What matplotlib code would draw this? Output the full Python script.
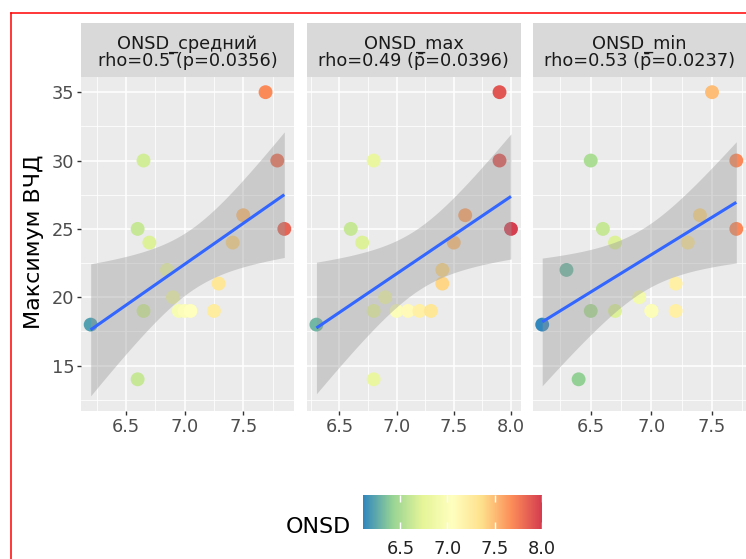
import numpy as np
import matplotlib
matplotlib.use("Agg")
import matplotlib.pyplot as plt
from matplotlib.colors import LinearSegmentedColormap, Normalize
from matplotlib.lines import Line2D

# Maximum ICP per patient and the three ONSD summaries (mm)
icp_max = [35, 30, 30, 25, 25, 24, 24, 26, 22, 21, 20, 19, 19, 19, 19, 19, 18, 14]
onsd_mean = [7.69, 7.79, 6.65, 7.85, 6.60, 6.70, 7.41, 7.50, 6.85, 7.29, 6.90,
             6.65, 6.95, 7.00, 7.05, 7.25, 6.20, 6.60]
onsd_max = [7.9, 7.9, 6.8, 8.0, 6.6, 6.7, 7.5, 7.6, 7.4, 7.4, 6.9,
            6.8, 7.0, 7.1, 7.2, 7.3, 6.3, 6.8]
onsd_min = [7.5, 7.7, 6.5, 7.7, 6.6, 6.7, 7.3, 7.4, 6.3, 7.2, 6.9,
            6.5, 6.7, 7.0, 7.0, 7.2, 6.1, 6.4]

facet_values = [onsd_mean, onsd_max, onsd_min]
facet_names = ["ONSD_средний", "ONSD_max", "ONSD_min"]
facet_stats = ["rho=0.5 \u0304(p=0.0356)",
               "rho=0.49 (p\u0304=0.0396)",
               "rho=0.53 (p\u0304=0.0237)"]
x_ticks = [6.0, 6.5, 7.0, 7.5, 8.0]
y_ticks = [15, 20, 25, 30, 35]
colorbar_ticks = [6.5, 7.0, 7.5, 8.0]

# Spectral palette, low values blue, high values red
spectral = ["#3288BD", "#99D594", "#E6F598", "#FFFFBF", "#FEE08B", "#FC8D59", "#D53E4F"]
cmap = LinearSegmentedColormap.from_list("spectral_r", spectral)
all_vals = np.concatenate([np.asarray(v) for v in facet_values])
norm = Normalize(all_vals.min(), all_vals.max())

T_CRIT = 2.12  # t(0.975, df = n - 2)


def lm_band(x, y, n=80):
    x = np.asarray(x, float)
    y = np.asarray(y, float)
    b, a = np.polyfit(x, y, 1)
    xs = np.linspace(x.min(), x.max(), n)
    fit = a + b * xs
    resid = y - (a + b * x)
    s = np.sqrt(np.sum(resid ** 2) / (len(x) - 2))
    sxx = np.sum((x - x.mean()) ** 2)
    se = s * np.sqrt(1 / len(x) + (xs - x.mean()) ** 2 / sxx)
    return xs, fit, fit - T_CRIT * se, fit + T_CRIT * se


fits = [lm_band(v, icp_max) for v in facet_values]
lo = min(min(icp_max), min(f[2].min() for f in fits))
hi = max(max(icp_max), max(f[3].max() for f in fits))
pad = 0.05 * (hi - lo)
ylim = (lo - pad, hi + pad)

W, H = 746, 559
fig = plt.figure(figsize=(W / 100, H / 100), dpi=100)


def px_axes(x0, y0, x1, y1):
    return fig.add_axes([x0 / W, 1 - y1 / H, (x1 - x0) / W, (y1 - y0) / H])


panels_x = [(81, 294), (306.7, 520.7), (532.5, 746)]
panel_top, panel_bottom = 77, 411
strip_top = 23
small = 12.8
large = 16

for i, (vals, name, stat) in enumerate(zip(facet_values, facet_names, facet_stats)):
    x0, x1 = panels_x[i]
    ax = px_axes(x0, panel_top, x1, panel_bottom)
    ax.set_facecolor("#EBEBEB")
    for sp in ax.spines.values():
        sp.set_visible(False)

    v = np.asarray(vals)
    xpad = 0.05 * (v.max() - v.min())
    xlim = (v.min() - xpad, v.max() + xpad)
    ax.set_xlim(*xlim)
    ax.set_ylim(*ylim)

    xt = [t for t in x_ticks if xlim[0] <= t <= xlim[1]]
    ax.set_xticks(xt)
    ax.set_xticklabels([f"{t:.1f}" for t in xt])
    xm = [t + 0.25 for t in [5.5] + x_ticks if xlim[0] <= t + 0.25 <= xlim[1]]
    ax.set_xticks(xm, minor=True)
    ax.set_yticks(y_ticks)
    ax.set_yticks([t - 2.5 for t in y_ticks] + [37.5], minor=True)
    ax.set_ylim(*ylim)

    ax.grid(True, which="major", color="white", lw=1.1)
    ax.grid(True, which="minor", color="white", lw=0.55)
    ax.set_axisbelow(True)
    ax.tick_params(which="major", length=2.9, width=1.0, color="#333333",
                   labelcolor="#4D4D4D", labelsize=small, pad=2)
    ax.tick_params(which="minor", length=0)
    if i > 0:
        ax.tick_params(axis="y", labelleft=False, length=0)

    ax.scatter(v, icp_max, c=v, cmap=cmap, norm=norm, s=100, linewidths=0, zorder=2)
    xs, fit, lower, upper = fits[i]
    ax.fill_between(xs, lower, upper, color="#999999", alpha=0.4, lw=0, zorder=3)
    ax.plot(xs, fit, color="#3366FF", lw=2.2, zorder=4, solid_capstyle="butt")

    sax = px_axes(x0, strip_top, x1, panel_top)
    sax.set_facecolor("#D9D9D9")
    sax.set_xticks([])
    sax.set_yticks([])
    for sp in sax.spines.values():
        sp.set_visible(False)
    xc = (x0 + x1) / 2 / W
    fig.text(xc, 1 - 48.3 / H, name, ha="center", va="baseline",
             fontsize=small, color="#1A1A1A")
    fig.text(xc, 1 - 65.7 / H, stat, ha="center", va="baseline",
             fontsize=small, color="#1A1A1A")

fig.text(34 / W, 1 - 242 / H, "Максимум ВЧД", rotation=90, ha="center",
         va="center", fontsize=large, color="black")

# Colour bar legend
cax = px_axes(362.7, 495, 541.7, 529.3)
grad = np.linspace(norm.vmin, norm.vmax, 300).reshape(1, -1)
cax.imshow(grad, cmap=cmap, norm=norm, aspect="auto",
           extent=[norm.vmin, norm.vmax, 0, 1])
cax.set_xlim(norm.vmin, norm.vmax)
cax.set_ylim(0, 1)
for sp in cax.spines.values():
    sp.set_visible(False)
cax.set_yticks([])
cax.set_xticks(colorbar_ticks)
cax.set_xticklabels([f"{t:.1f}" for t in colorbar_ticks])
cax.tick_params(axis="x", length=0, pad=8, labelsize=small, labelcolor="#222222")
cax.vlines(colorbar_ticks, 0, 0.2, color="white", lw=1)
cax.vlines(colorbar_ticks, 0.8, 1, color="white", lw=1)
fig.text(286 / W, 1 - 527 / H, "ONSD", ha="left", va="center",
         fontsize=large, color="black")

# Red frame
fig.add_artist(Line2D([10.5 / W, 10.5 / W], [0, 1 - 12.5 / H], color="red",
                      lw=1.1, transform=fig.transFigure))
fig.add_artist(Line2D([10.5 / W, 1], [1 - 12.5 / H, 1 - 12.5 / H], color="red",
                      lw=1.1, transform=fig.transFigure))

fig.savefig("out.png", dpi=100)
